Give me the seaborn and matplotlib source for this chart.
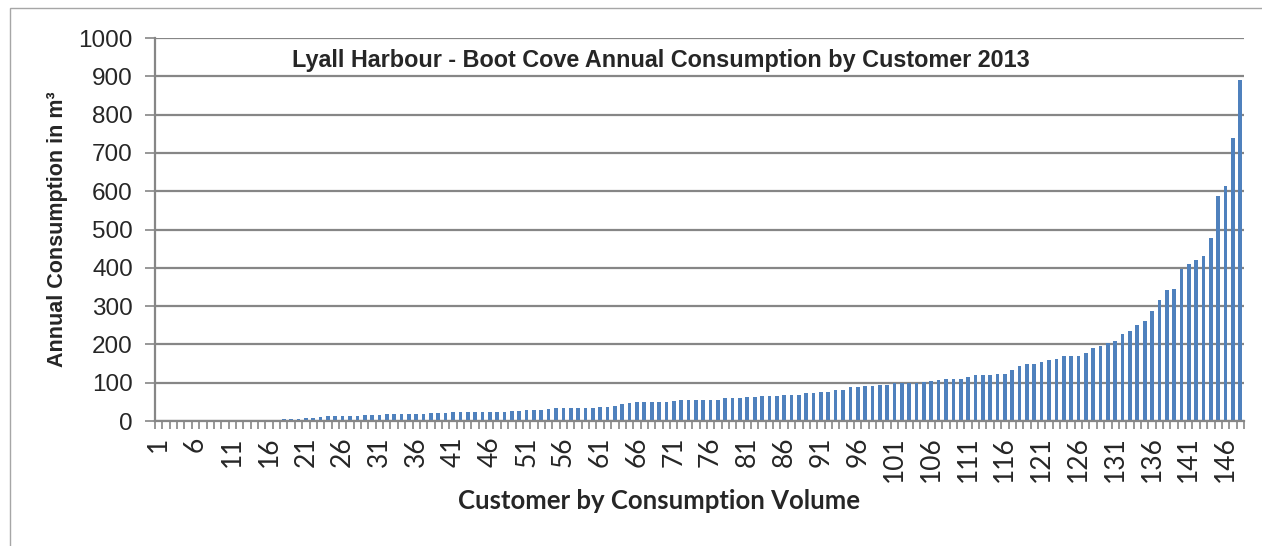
import numpy as np
import pandas as pd
import matplotlib
matplotlib.use('Agg')
import matplotlib.pyplot as plt
import matplotlib.patches as patches
import seaborn as sns

# consumption per customer (m3), sorted ascending
consumo = [
    0, 0, 0, 0, 0, 0, 0, 0, 0, 0,
    0, 0, 0.5, 1, 1, 1.5, 3, 4, 5, 5,
    8, 9, 10, 12, 12, 12, 13, 14, 15, 16,
    16, 17, 18, 18, 18, 18, 19, 20, 20, 22,
    23, 23, 24, 24, 24, 24, 24, 24, 26, 27,
    28, 29, 30, 31, 33, 34, 34, 34, 34, 35,
    36, 36, 38, 45, 47, 49, 49, 50, 50, 50,
    51, 54, 54, 54, 56, 56, 56, 59, 59, 60,
    62, 62, 64, 65, 65, 67, 67, 67, 72, 72,
    77, 77, 80, 80, 88, 89, 92, 92, 94, 94,
    98, 99, 100, 100, 103, 104, 106, 109, 109, 109,
    114, 119, 119, 121, 123, 123, 132, 143, 148, 150,
    153, 158, 163, 169, 170, 171, 177, 190, 196, 203,
    209, 226, 234, 250, 261, 287, 317, 341, 345, 397,
    411, 421, 430, 477, 587, 613, 740, 891,
]
clientes = [str(i) for i in range(1, len(consumo) + 1)]
rotulos_x = [str(i) for i in range(1, len(consumo) + 1, 5)]
rotulos_y = list(range(0, 1001, 100))

df = pd.DataFrame({'Cliente': clientes, 'Consumo': consumo})

sns.set_theme(style='white')
plt.rcParams['font.family'] = ['Liberation Sans', 'DejaVu Sans']

fig = plt.figure(figsize=(12.62, 5.46), dpi=100)
ax = fig.add_axes([155 / 1262, 1 - 421 / 546, (1244 - 155) / 1262, (421 - 38) / 546])

sns.barplot(data=df, x='Cliente', y='Consumo', color='#4F81BD', width=0.5,
            saturation=1, linewidth=0, ax=ax)
for p in ax.patches:
    p.set_zorder(3)

cinza = '#868686'
ax.set_ylim(0, 1000)
ax.set_xlim(-0.5, len(consumo) - 0.5)
ax.set_yticks(rotulos_y)
ax.set_yticklabels([str(v) for v in rotulos_y], fontsize=17.5)
ax.yaxis.grid(True, color=cinza, linewidth=1.6, zorder=0)
ax.set_axisbelow(True)

ax.set_xticks(range(0, len(consumo), 5))
ax.set_xticklabels(rotulos_x, rotation=90, fontsize=19, family=['Lato', 'DejaVu Sans'])
ax.set_xticks(np.arange(-0.5, len(consumo), 1), minor=True)
ax.tick_params(axis='x', which='major', length=0, pad=11)
ax.tick_params(axis='x', which='minor', length=6, width=1.2, color=cinza, bottom=True)
ax.tick_params(axis='y', length=7, width=1.2, color=cinza, left=True, pad=9)

for lado in ['top', 'right']:
    ax.spines[lado].set_visible(False)
for lado in ['left', 'bottom']:
    ax.spines[lado].set_color(cinza)
    ax.spines[lado].set_linewidth(1.6)
    ax.spines[lado].set_zorder(4)

ax.set_xlabel('')
ax.set_ylabel('')

fig.text(661 / 1262, 1 - 61 / 546, 'Lyall Harbour - Boot Cove Annual Consumption by Customer 2013',
         ha='center', va='center', fontsize=16.8, fontweight='bold')
fig.text(659 / 1262, 1 - 501 / 546, 'Customer by Consumption Volume',
         ha='center', va='center', fontsize=18.5, fontweight='bold', family=['Lato', 'DejaVu Sans'])
fig.text(57 / 1262, 1 - 229 / 546, 'Annual Consumption in m³', rotation=90,
         ha='center', va='center', fontsize=15.5, fontweight='bold')

moldura = patches.Rectangle((10 / 1262, -0.2), 2, 1.2 - 8 / 546, transform=fig.transFigure,
                            fill=False, edgecolor='#A6A6A6', linewidth=1)
fig.patches.append(moldura)

fig.savefig('out.png', dpi=100)
